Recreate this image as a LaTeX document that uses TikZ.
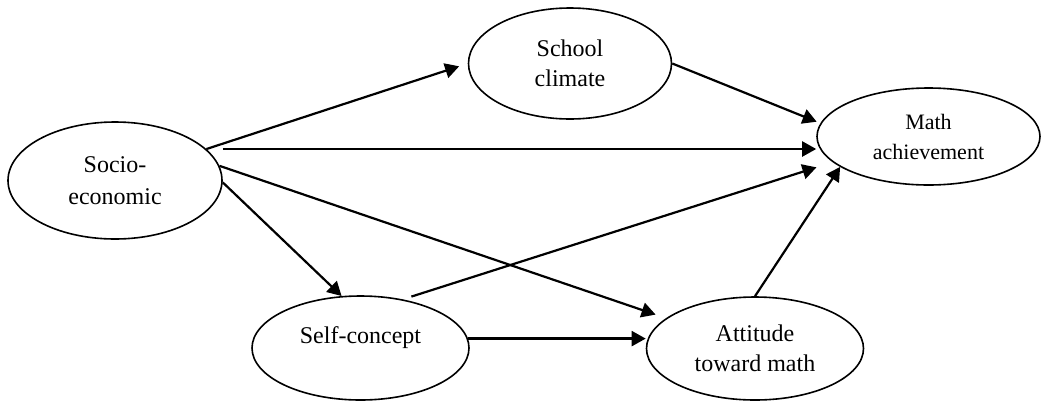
\documentclass[tikz,border=0pt]{standalone}
\usepackage{fontspec}
\setmainfont{Liberation Serif}
\usetikzlibrary{shapes.geometric,arrows.meta}

\begin{document}
\begin{tikzpicture}[x=0.5pt,y=-0.5pt,
  construct/.style={draw,ellipse,line width=0.8pt,inner sep=0pt,align=center,font=\fontsize{12}{15}\selectfont},
  link/.style={-{Triangle[length=7pt,width=7.5pt]},line width=1.1pt}]
\useasboundingbox (0,0) rectangle (1043,402);
% the five constructs
\node [construct,minimum width=107pt,minimum height=58.5pt,font=\fontsize{12}{16.3}\selectfont] (socio) at (115,180.5) {Socio-\\economic};
\node [construct,minimum width=101.5pt,minimum height=55.5pt] (school) at (570,63.5) {School\\climate};
\node [construct,minimum width=111.5pt,minimum height=48.5pt,font=\fontsize{11}{15}\selectfont] (math) at (928.5,136.5) {Math\\achievement};
\node [construct,minimum width=108.5pt,minimum height=52pt,text height=8.5pt,text depth=13.5pt] (self) at (360.5,348) {Self-concept};
\node [construct,minimum width=108.5pt,minimum height=51.5pt] (att) at (755,348.5) {Attitude\\toward math};
% paths
\draw [link,shorten >=4.5pt] (socio.19) -- (school.west);
\draw [link] ([yshift=15.75pt]socio.east) -- ([yshift=15.75pt]socio.east -| math.west);
\draw [link,shorten >=2pt] (school.east) -- (math.173);
\draw [link,shorten >=5.5pt] (socio.8) -- (att);
\draw [link] (socio.-1) -- (self.110);
\draw [link,shorten <=4.5pt,shorten >=8.5pt] (self.49) -- (math.195);
\draw [link] (self.5) -- (self.5 -| att.west);
\draw [link] (att.north) -- (math.199.5);
\end{tikzpicture}
\end{document}
